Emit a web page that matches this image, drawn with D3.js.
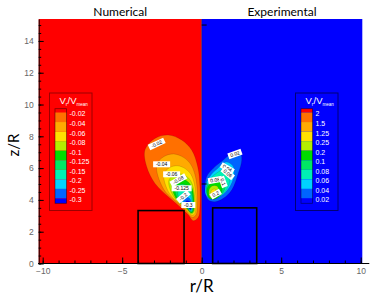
<!DOCTYPE html>
<html>
<head>
<meta charset="utf-8">
<script src="https://cdn.jsdelivr.net/npm/d3@7"></script>
<style>
  body { margin: 0; background: #fff; }
  svg { display: block; }
</style>
</head>
<body>
<svg id="chart" width="379" height="302"></svg>
<script>
// axis extents
const rDomain = [-10.25, 10.1]
const zDomain = [0, 15.38]
// tick values
const rTicks = [-10, -5, 0, 5, 10]
const rMinor = d3.range(-10, 10.01, 1)
const zTicks = [0, 2, 4, 6, 8, 10, 12, 14]
const zMinor = d3.range(0, 15.01, 0.5)

// colour bands of the legends, top to bottom
const bandColors = ['#ff0000', '#ff7000', '#ffaa00', '#ffe000', '#b4ee00', '#00dc00',
  '#00e664', '#00f0b4', '#00d2ff', '#0064ff', '#0000ff']
// legend levels
const numLevels = [-0.02, -0.04, -0.06, -0.08, -0.1, -0.125, -0.15, -0.2, -0.25, -0.3]
const expLevels = [2, 1.5, 1.25, 0.25, 0.2, 0.1, 0.08, 0.06, 0.04, 0.02]

// numerical contours [r/R, z/R], outer to inner
const numContourLevels = [-0.02, -0.04, -0.06, -0.08, -0.1, -0.125, -0.15, -0.2, -0.25, -0.3]
const numContours = [
  [[-3.57, 7.14], [-2.94, 7.87], [-2.10, 8.08], [-1.26, 7.77], [-0.63, 7.14], [-0.25, 6.09], [-0.11, 4.83],
   [-0.11, 3.57], [-0.21, 2.91], [-0.53, 2.69], [-0.84, 3.05], [-1.26, 3.47], [-2.10, 4.20], [-2.94, 5.04], [-3.46, 6.09]],
  [[-2.83, 6.19], [-2.37, 6.73], [-1.75, 6.89], [-1.12, 6.66], [-0.66, 6.19], [-0.38, 5.41], [-0.27, 4.48],
   [-0.27, 3.55], [-0.35, 3.06], [-0.58, 2.90], [-1.12, 3.48], [-2.37, 4.64]],
  [[-2.38, 5.61], [-2.02, 6.03], [-1.53, 6.15], [-1.04, 5.97], [-0.68, 5.61], [-0.46, 5.00], [-0.37, 4.27],
   [-0.37, 3.54], [-0.43, 3.15], [-0.62, 3.03], [-1.04, 3.48], [-2.02, 4.39]],
  [[-2.07, 5.21], [-1.77, 5.55], [-1.38, 5.65], [-0.98, 5.50], [-0.69, 5.21], [-0.51, 4.71], [-0.44, 4.12],
   [-0.44, 3.53], [-0.49, 3.22], [-0.64, 3.11], [-0.98, 3.48], [-1.77, 4.22]],
  [[-1.87, 4.95], [-1.62, 5.24], [-1.28, 5.33], [-0.95, 5.20], [-0.70, 4.95], [-0.54, 4.53], [-0.49, 4.03],
   [-0.49, 3.52], [-0.53, 3.26], [-0.66, 3.17], [-0.95, 3.48], [-1.62, 4.11]],
  [[-1.67, 4.69], [-1.47, 4.94], [-1.19, 5.00], [-0.91, 4.90], [-0.70, 4.69], [-0.58, 4.35], [-0.53, 3.93],
   [-0.53, 3.52], [-0.56, 3.30], [-0.67, 3.23], [-0.91, 3.48], [-1.47, 4.00]],
  [[-1.50, 4.48], [-1.33, 4.67], [-1.11, 4.73], [-0.88, 4.65], [-0.71, 4.48], [-0.61, 4.19], [-0.57, 3.85],
   [-0.57, 3.51], [-0.60, 3.33], [-0.68, 3.27], [-0.88, 3.48], [-1.33, 3.91]],
  [[-1.33, 4.26], [-1.20, 4.41], [-1.03, 4.45], [-0.85, 4.39], [-0.72, 4.26], [-0.64, 4.04], [-0.61, 3.77],
   [-0.61, 3.51], [-0.63, 3.37], [-0.70, 3.32], [-0.85, 3.49], [-1.20, 3.82]],
  [[-1.16, 4.04], [-1.07, 4.15], [-0.94, 4.18], [-0.82, 4.13], [-0.72, 4.04], [-0.67, 3.88], [-0.65, 3.69],
   [-0.65, 3.50], [-0.66, 3.40], [-0.71, 3.37], [-0.82, 3.49], [-1.07, 3.72]],
  [[-1.02, 3.86], [-0.96, 3.93], [-0.88, 3.95], [-0.79, 3.92], [-0.73, 3.86], [-0.69, 3.75], [-0.68, 3.62],
   [-0.68, 3.50], [-0.69, 3.43], [-0.72, 3.41], [-0.79, 3.49], [-0.96, 3.65]]
]

// experimental contours [r/R, z/R], outer to inner
const expContourLevels = [0.02, 0.04, 0.06, 0.08, 0.1, 0.2, 0.25]
const expContours = [
  [[2.41, 7.03], [2.52, 6.51], [2.30, 5.67], [1.89, 4.62], [1.36, 4.10], [0.84, 3.89], [0.42, 3.99],
   [0.21, 4.62], [0.31, 5.46], [0.73, 5.99], [1.36, 6.51], [1.89, 6.93]],
  [[1.53, 6.38], [1.97, 6.13], [2.03, 5.50], [1.72, 4.75], [1.21, 4.25], [0.65, 4.06], [0.27, 4.31],
   [0.27, 5.00], [0.58, 5.57], [1.03, 6.01]],
  [[1.40, 5.94], [1.72, 5.69], [1.72, 5.00], [1.34, 4.37], [0.77, 4.12], [0.40, 4.31], [0.33, 4.87],
   [0.58, 5.38], [1.03, 5.75]],
  [[1.21, 5.50], [1.47, 5.13], [1.40, 4.56], [1.03, 4.18], [0.58, 4.06], [0.33, 4.37], [0.33, 4.87], [0.65, 5.25]],
  [[1.09, 5.25], [1.28, 4.87], [1.21, 4.37], [0.84, 4.06], [0.46, 4.12], [0.33, 4.62], [0.58, 5.06]],
  [[0.96, 4.87], [1.09, 4.50], [0.84, 4.12], [0.52, 4.18], [0.46, 4.62], [0.65, 4.87]],
  [[0.84, 4.69], [0.90, 4.37], [0.65, 4.25], [0.58, 4.56]]
]

// contour labels
const numLabelText = ['-0.02', '-0.04', '-0.06', '-0.08', '-0.125', '-0.2', '-0.3']
const numLabelPos = [[-2.83, 7.52], [-2.52, 6.24], [-1.89, 5.61], [-1.47, 5.25], [-1.26, 4.73], [-1.16, 4.20], [-0.84, 3.68]]
const numLabelAngle = [-25, 0, 0, -30, 0, -40, 0]
const expLabelText = ['0.02', '0.04', '0.06', '0.08', '0.1', '0.2']
const expLabelPos = [[2.09, 6.89], [1.61, 5.99], [1.64, 5.67], [0.84, 5.25], [1.34, 5.13], [0.88, 4.37]]
const expLabelAngle = [-20, 30, 40, -10, 70, -30]

// cylinders [r0, r1, top]
const boxR0 = [-4.0, 0.69]
const boxR1 = [-1.11, 3.46]
const boxTop = [3.33, 3.5]

const svg = d3.select('#chart')
const x = d3.scaleLinear().domain(rDomain).range([38.7, 362.3])
const y = d3.scaleLinear().domain(zDomain).range([263.5, 19])

// two halves
svg.append('rect')
  .attr('x', x(rDomain[0])).attr('y', y(zDomain[1]))
  .attr('width', x(0) - x(rDomain[0])).attr('height', y(0) - y(zDomain[1]))
  .attr('fill', bandColors[0])
svg.append('rect')
  .attr('x', x(0)).attr('y', y(zDomain[1]))
  .attr('width', x(rDomain[1]) - x(0)).attr('height', y(0) - y(zDomain[1]))
  .attr('fill', bandColors[10])

const line = d3.line()
  .x(d => x(d[0]))
  .y(d => y(d[1]))
  .curve(d3.curveCatmullRomClosed.alpha(0.5))

svg.append('g').selectAll('path')
  .data(numContours)
  .join('path')
  .attr('d', line)
  .attr('fill', (d, i) => bandColors[numLevels.indexOf(numContourLevels[i]) + 1])
  .attr('stroke', 'rgba(0,0,0,0.25)')
  .attr('stroke-width', 0.5)

svg.append('g').selectAll('path')
  .data(expContours)
  .join('path')
  .attr('d', line)
  .attr('fill', (d, i) => bandColors[expLevels.indexOf(expContourLevels[i])])
  .attr('stroke', 'rgba(0,0,0,0.25)')
  .attr('stroke-width', 0.5)

// line at r = 0
svg.append('line')
  .attr('x1', x(0)).attr('x2', x(0))
  .attr('y1', y(0)).attr('y2', y(zDomain[1]))
  .attr('stroke', 'rgba(0,0,0,0.45)').attr('stroke-width', 0.8)
svg.append('g').selectAll('line')
  .data([15, 5])
  .join('line')
  .attr('x1', x(0)).attr('x2', x(0) + 5)
  .attr('y1', d => y(d)).attr('y2', d => y(d))
  .attr('stroke', '#000').attr('stroke-width', 1)

// cylinders
svg.append('g').selectAll('rect')
  .data(boxTop)
  .join('rect')
  .attr('x', (d, i) => x(boxR0[i]))
  .attr('y', d => y(d))
  .attr('width', (d, i) => x(boxR1[i]) - x(boxR0[i]))
  .attr('height', d => y(0) - y(d))
  .attr('fill', 'none')
  .attr('stroke', '#000')
  .attr('stroke-width', 1.6)

// contour labels
function contourLabels(texts, pos, angles) {
  const g = svg.append('g').selectAll('g')
    .data(texts)
    .join('g')
    .attr('transform', (d, i) => `translate(${x(pos[i][0])},${y(pos[i][1])}) rotate(${angles[i]})`)
  g.append('rect')
    .attr('x', d => -d.length * 1.5 - 1)
    .attr('y', -3)
    .attr('width', d => d.length * 3 + 2)
    .attr('height', 6)
    .attr('fill', '#fff')
  g.append('text')
    .text(d => d)
    .attr('text-anchor', 'middle')
    .attr('dy', '0.35em')
    .attr('font-family', 'Liberation Sans, Arial, sans-serif')
    .attr('font-size', 5)
    .attr('fill', '#000')
}
contourLabels(numLabelText, numLabelPos, numLabelAngle)
contourLabels(expLabelText, expLabelPos, expLabelAngle)

// axes
const axisY = d3.axisLeft(y).tickValues(zTicks).tickSize(-5).tickSizeOuter(0).tickPadding(5)
svg.append('g').attr('transform', `translate(${x(rDomain[0])},0)`).call(axisY)
svg.append('g').attr('transform', `translate(${x(rDomain[0])},0)`)
  .call(d3.axisLeft(y).tickValues(zMinor).tickSize(-2.5).tickFormat(''))
  .select('.domain').remove()

const axisX = d3.axisBottom(x).tickValues(rTicks).tickSize(-6).tickPadding(4)
const gx = svg.append('g').attr('transform', `translate(0,${y(0)})`).call(axisX)
gx.select('.domain').remove()
svg.append('g').attr('transform', `translate(0,${y(0)})`)
  .call(d3.axisBottom(x).tickValues(rMinor).tickSize(-3).tickFormat(''))
  .select('.domain').remove()
svg.append('line')
  .attr('x1', x.range()[0] - 0.7).attr('x2', x.range()[1] + 7)
  .attr('y1', y(0)).attr('y2', y(0))
  .attr('stroke', '#000').attr('stroke-width', 1.2)

svg.selectAll('.tick text')
  .attr('fill', '#666')
  .attr('font-family', 'Liberation Sans, Arial, sans-serif')
  .attr('font-size', 8.5)

// axis titles
svg.append('text')
  .text('r/R')
  .attr('x', x(0)).attr('y', 292)
  .attr('text-anchor', 'middle')
  .attr('font-family', 'Lato, sans-serif')
  .attr('font-size', 17)
svg.append('text')
  .text('z/R')
  .attr('transform', `translate(19,145) rotate(-90)`)
  .attr('text-anchor', 'middle')
  .attr('font-family', 'Lato, sans-serif')
  .attr('font-size', 15)

// panel titles
svg.append('g').selectAll('text')
  .data(['Numerical', 'Experimental'])
  .join('text')
  .text(d => d)
  .attr('x', (d, i) => i ? (x(0) + x(rDomain[1])) / 2 : (x(rDomain[0]) + x(0)) / 2)
  .attr('y', 15.5)
  .attr('text-anchor', 'middle')
  .attr('font-family', 'Lato, sans-serif')
  .attr('font-size', 12)

// legends
function legend(left, levels, stroke) {
  const g = svg.append('g')
  g.append('rect')
    .attr('x', left).attr('y', 93)
    .attr('width', 42.5).attr('height', 117.5)
    .attr('fill', 'none')
    .attr('stroke', stroke).attr('stroke-width', 1)
  const title = g.append('text')
    .attr('x', left + 10).attr('y', 104)
    .attr('font-family', 'Liberation Sans, Arial, sans-serif')
    .attr('font-size', 9.5)
    .attr('fill', '#fff')
  title.append('tspan').text('V')
  title.append('tspan').text('r').attr('font-size', 5).attr('dy', 1.5)
  title.append('tspan').text('/V').attr('dy', -1.5)
  title.append('tspan').text('mean').attr('font-size', 4.5).attr('dy', 1.5)

  const top = 108.7
  const first = 112.5
  const step = 9.55
  const bottom = 203.3
  const edges = [top].concat(levels.map((d, i) => first + i * step)).concat([bottom])
  g.append('g').selectAll('rect')
    .data(bandColors)
    .join('rect')
    .attr('x', left + 5.5)
    .attr('y', (d, i) => edges[i])
    .attr('width', 11.5)
    .attr('height', (d, i) => edges[i + 1] - edges[i])
    .attr('fill', d => d)
  g.append('rect')
    .attr('x', left + 5.5).attr('y', top)
    .attr('width', 11.5).attr('height', bottom - top)
    .attr('fill', 'none')
    .attr('stroke', 'rgba(0,0,0,0.5)').attr('stroke-width', 0.8)
  g.append('g').selectAll('text')
    .data(levels)
    .join('text')
    .text(d => d)
    .attr('x', left + 20)
    .attr('y', (d, i) => first + i * step + 1.5)
    .attr('dy', '0.35em')
    .attr('font-family', 'Liberation Sans, Arial, sans-serif')
    .attr('font-size', 7)
    .attr('fill', '#fff')
}
legend(49.5, numLevels, 'rgba(90,0,0,0.6)')
legend(295.5, expLevels, 'rgba(0,0,60,0.7)')
</script>
</body>
</html>
